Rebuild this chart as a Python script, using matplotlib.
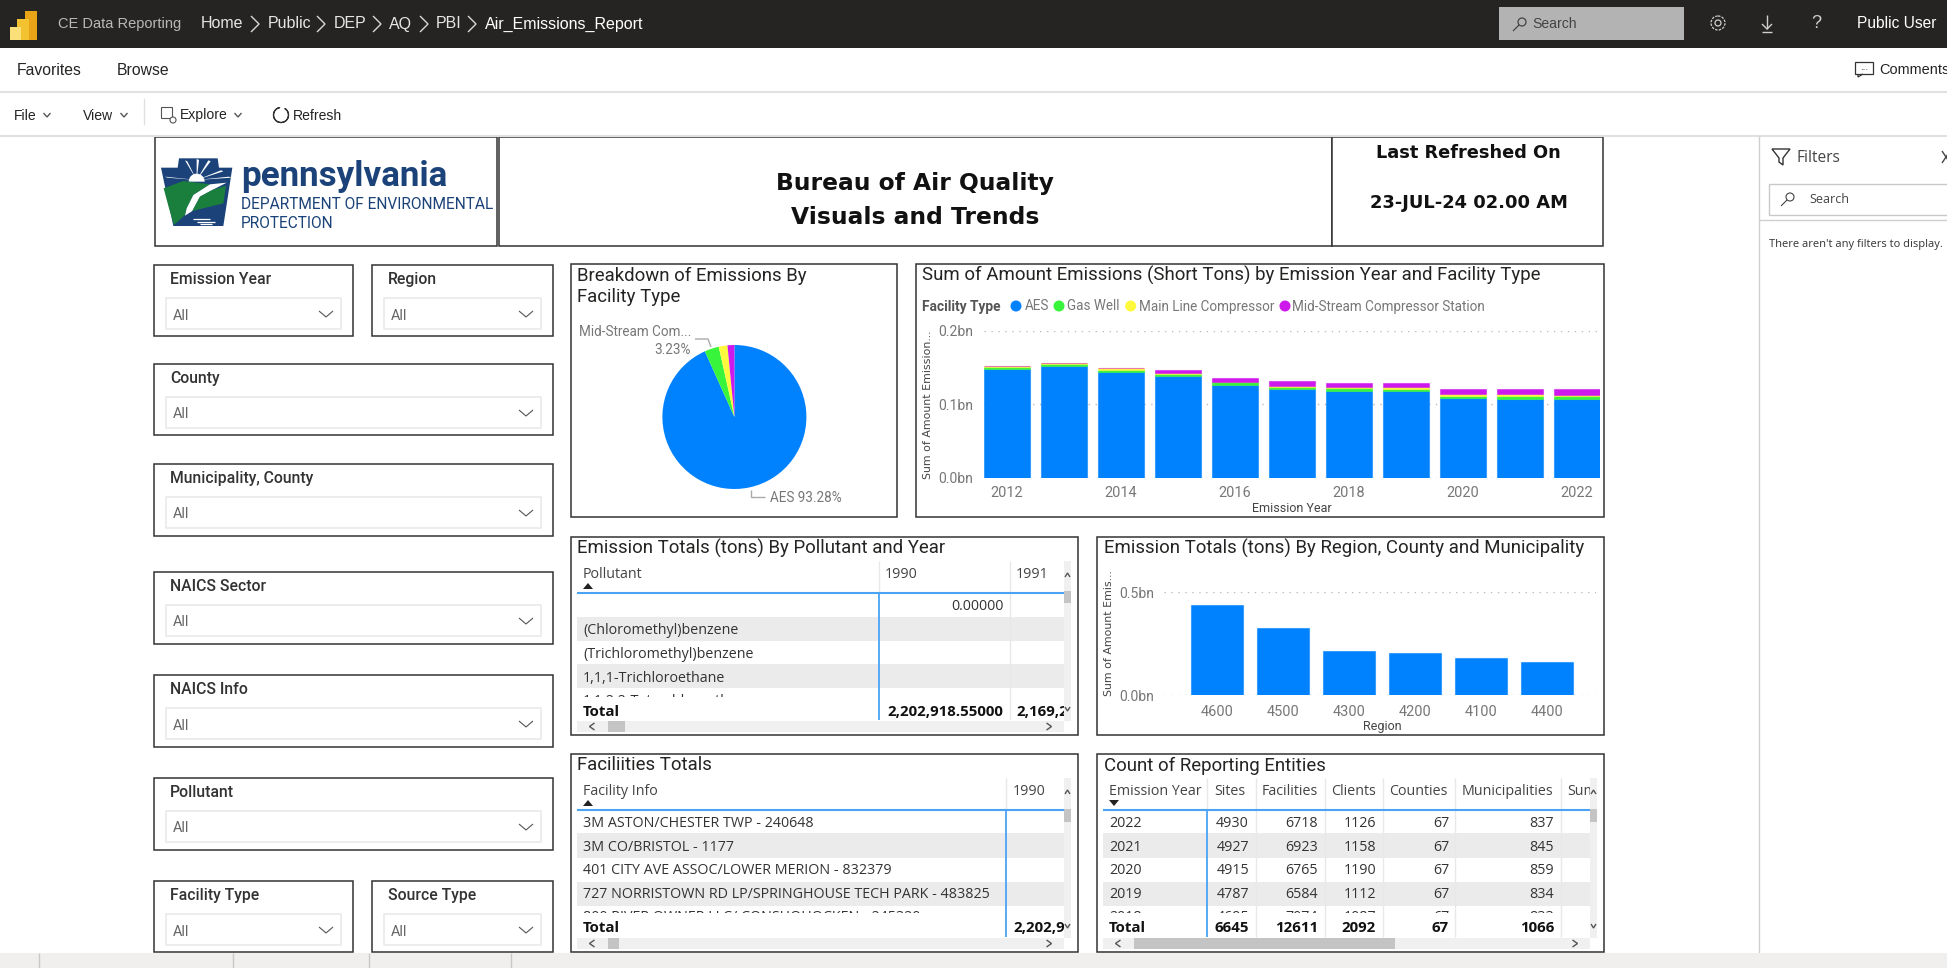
import numpy as np
import matplotlib
matplotlib.use("Agg")
import matplotlib.pyplot as plt
from matplotlib.colors import to_rgba
from matplotlib.patches import Rectangle, Polygon, Circle, Wedge

W, H = 1947, 968

# ---- chart data (bn short tons) ----
years = [2012, 2013, 2014, 2015, 2016, 2017, 2018, 2019, 2020, 2021, 2022]
aes = [.1484, .1521, .1444, .1385, .1263, .1205, .1186, .1181, .1086, .1077, .1069]
gas_well = [.0020, .0027, .0027, .0031, .0037, .0031, .0033, .0031, .0027, .0037, .0045]
main_line = [.0020, .0018, .0019, .0014, .0010, .0018, .0018, .0023, .0023, .0023, .0018]
mid_stream = [.0002, .0002, .0002, .0041, .0050, .0060, .0058, .0058, .0076, .0076, .0077]

facility_types = ['AES', 'Gas Well', 'Main Line Compressor', 'Mid-Stream Compressor Station']
pie_values = [93.28, 3.23, 1.95, 1.54]

regions = ['4600', '4500', '4300', '4200', '4100', '4400']
region_values = [.4385, .3285, .2152, .2071, .1812, .1634]

# ---- table data ----
pollutants = ['', '(Chloromethyl)benzene', '(Trichloromethyl)benzene', '1,1,1-Trichloroethane',
              '1,1,2,2-Tetrachloroethane']
facilities = ['3M ASTON/CHESTER TWP - 240648', '3M CO/BRISTOL - 1177',
              '401 CITY AVE ASSOC/LOWER MERION - 832379',
              '727 NORRISTOWN RD LP/SPRINGHOUSE TECH PARK - 483825',
              '800 RIVER OWNER LLC/ CONSHOHOCKEN - 245320']
count_headers = ['Emission Year', 'Sites', 'Facilities', 'Clients', 'Counties', 'Municipalities', 'Sum']
count_rows = [
    ['2022', '4930', '6718', '1126', '67', '837'],
    ['2021', '4927', '6923', '1158', '67', '845'],
    ['2020', '4915', '6765', '1190', '67', '859'],
    ['2019', '4787', '6584', '1112', '67', '834'],
    ['2018', '4695', '7074', '1087', '67', '833'],
]
count_total = ['Total', '6645', '12611', '2092', '67', '1066']

slicers = ['Emission Year', 'Region', 'County', 'Municipality, County', 'NAICS Sector',
           'NAICS Info', 'Pollutant', 'Facility Type', 'Source Type']

COLORS = ['#0082ff', '#38f53c', '#fff93e', '#ce19ec']
TITLE_FONT = 'Roboto'
UI_FONT = 'Open Sans'
TOP_FONT = 'Liberation Sans'

fig = plt.figure(figsize=(W / 100, H / 100), dpi=100, facecolor='white')
bg = fig.add_axes([0, 0, 1, 1])
bg.set_xlim(0, W)
bg.set_ylim(H, 0)
bg.axis('off')


def px(size):
    return size * 0.72


def rect(x0, y0, x1, y1, fc='none', ec='none', lw=0, z=1):
    bg.add_patch(Rectangle((x0, y0), x1 - x0, y1 - y0, facecolor=fc, edgecolor=ec, linewidth=lw, zorder=z))


def line(xs, ys, color='#666666', lw=1, z=3):
    bg.plot(xs, ys, color=color, lw=lw, zorder=z, solid_capstyle='butt', solid_joinstyle='miter')


def txt(x, y, s, size=13, color='#252423', font=UI_FONT, ha='left', weight='normal', clip=None, z=4):
    # matplotlib centres on the full line box, nudge down to sit like the original
    t = bg.text(x, y + 1.5, s, fontsize=px(size), color=color, family=font, ha=ha, va='center',
                fontweight=weight, zorder=z)
    if clip is not None:
        r = Rectangle((clip[0], clip[1]), clip[2] - clip[0], clip[3] - clip[1], transform=bg.transData)
        t.set_clip_path(r)
        t.set_clip_on(True)
    return t


def chevron(x, y, w, h, color='#555555', lw=1):
    # v shape, h > 0 points down
    line([x - w, x, x + w], [y - h, y + h, y - h], color, lw)


def side_chevron(x, y, w, h, color='#cccccc', lw=1):
    # w > 0 points right
    line([x - w, x + w, x - w], [y - h, y, y + h], color, lw)


def frame(x0, y0, x1, y1):
    rect(x0, y0, x1, y1, fc='white', ec='#333333', lw=1.1, z=2)


def chart_axes(x0, y0, x1, y1):
    ax = fig.add_axes([x0 / W, 1 - y1 / H, (x1 - x0) / W, (y1 - y0) / H])
    ax.patch.set_alpha(0)
    for s in ax.spines.values():
        s.set_visible(False)
    return ax


def style_bars(ax, yticks, ylabels):
    ax.set_yticks(yticks)
    ax.set_yticklabels(ylabels, fontsize=px(14), color='#777777', family=TITLE_FONT)
    ax.tick_params(axis='both', length=0)
    ax.grid(axis='y', linestyle=(0, (1, 4)), color='#bbbbbb', linewidth=1)
    ax.set_axisbelow(True)


# ---- top chrome ----
rect(0, 0, W, 48, fc='#252423')
rect(25, 11, 37, 40, fc='#e8a317', z=2)
rect(17, 19, 29, 40, fc='#f2c230', z=3)
rect(10, 27, 21, 40, fc='#fbe07a', z=4)
txt(58, 22.5, 'CE Data Reporting', 14.6, '#b9b9b9', TOP_FONT)
for label, x in [('Home', 201), ('Public', 268), ('DEP', 334), ('AQ', 389), ('PBI', 436)]:
    txt(x, 22.5, label, 16, '#e6e6e6', TOP_FONT)
txt(485, 22.5, 'Air_Emissions_Report', 16, 'white', TOP_FONT)
for x in [255, 321, 377, 424, 472]:
    side_chevron(x, 24, 4, 8, '#d8d8d8')
rect(1499, 7, 1684, 40, fc='#b3b3b3', z=2)
bg.add_patch(Circle((1522, 22), 4, fc='none', ec='#444444', lw=0.9, zorder=3))
line([1519, 1513], [25, 31], '#444444', 0.9)
txt(1532, 22.5, 'Search', 14, '#444444', TOP_FONT)
bg.add_patch(Circle((1718, 23), 3, fc='none', ec='#cfcfcf', lw=0.9, zorder=3))
bg.add_patch(Circle((1718, 23), 7, fc='none', ec='#cfcfcf', lw=0.9, ls=(0, (2, 1)), zorder=3))
line([1767, 1767], [15, 29], '#cfcfcf')
line([1762, 1767, 1772], [24, 29, 24], '#cfcfcf')
line([1762, 1772], [32, 32], '#cfcfcf')
txt(1816, 22.5, '?', 18, '#cfcfcf', TOP_FONT, ha='center')
txt(1857, 22.5, 'Public User', 15.5, 'white', TOP_FONT)

txt(17, 69, 'Favorites', 15.8, '#252423', TOP_FONT)
txt(117, 69, 'Browse', 15.8, '#252423', TOP_FONT)
rect(1855, 62, 1873, 74, ec='#333333', lw=0.9, z=3)
line([1858, 1858, 1863], [74, 77, 74], '#333333', 0.9)
txt(1864, 66, '...', 10, '#333333', TOP_FONT, ha='center')
txt(1879, 69, 'Comments', 14.5, '#252423', TOP_FONT, clip=(1870, 55, W, 85))
line([0, W], [92, 92], '#e1e1e1', 1.5)

txt(14, 114, 'File', 14, '#252423', TOP_FONT)
chevron(47, 115, 3.5, 2)
txt(83, 114, 'View', 14, '#252423', TOP_FONT)
chevron(124, 115, 3.5, 2)
line([144, 144], [98, 125], '#e1e1e1')
rect(161, 107, 172, 118, ec='#555555', lw=0.8, z=3)
bg.add_patch(Circle((173, 120), 3, fc='white', ec='#555555', lw=0.8, zorder=3))
txt(180, 114, 'Explore', 14, '#252423', TOP_FONT)
chevron(238, 115, 3.5, 2)
bg.add_patch(Wedge((281, 115), 7.5, -60, 260, width=0.01, fc='none', ec='#333333', lw=0.9, zorder=3))
txt(293, 114, 'Refresh', 14, '#252423', TOP_FONT)
line([0, W], [136, 136], '#e1e1e1', 1.5)

# filter pane
line([1759, 1759], [136, 953], '#cfcfcf', 1)
line([1759, W], [220, 220], '#cfcfcf', 1)
bg.add_patch(Polygon([(1772, 149), (1790, 149), (1783, 158), (1783, 165), (1779, 162), (1779, 158)],
                     fc='none', ec='#333333', lw=1, zorder=3))
txt(1797, 156, 'Filters', 15.5, '#444444', UI_FONT)
line([1942, 1950], [151, 163], '#444444')
line([1942, 1950], [163, 151], '#444444')
rect(1769, 184, 1960, 215, fc='white', ec='#c8c8c8', lw=1, z=2)
bg.add_patch(Circle((1790, 197), 4, fc='none', ec='#444444', lw=0.8, zorder=3))
line([1787, 1781], [200, 206], '#444444', 0.8)
txt(1809, 198, 'Search', 12.5, '#444444', UI_FONT)
txt(1769, 243, "There aren't any filters to display.", 11.1, '#333333', UI_FONT)

# bottom strip
rect(0, 953, W, H, fc='#f0efee', z=5)
for x in [39, 233, 369, 511]:
    line([x, x], [953, H], '#c8c8c8', 1, z=6)

# ---- report header ----
frame(155, 137, 497, 246)
frame(499, 137, 1332, 246)
frame(1332, 137, 1603, 246)

NAVY = '#1b4379'
GREEN = '#1a7f3c'


def logo_pts(points):
    return [(155 + a / 3, 145 + b / 3) for a, b in points]


bg.add_patch(Polygon(logo_pts([(72, 40), (188, 40), (192, 68), (232, 68), (205, 243), (55, 243),
                               (18, 68), (68, 68)]), fc=NAVY, ec='none', zorder=3))
for a, b in [(90, 46), (125, 42), (160, 46), (55, 75), (198, 76), (30, 95), (222, 95)]:
    bg.add_patch(Polygon(logo_pts([(125, 105), (a, b), (a + 7, b + 3)]), fc='white', ec='none', zorder=3))
bg.add_patch(Wedge((155 + 125 / 3, 145 + 110 / 3), 8, 180, 360, fc='white', ec='none', zorder=3))
bg.add_patch(Polygon(logo_pts([(26, 130), (85, 108), (165, 118), (115, 150), (95, 190), (90, 210),
                               (57, 240), (42, 190)]), fc=GREEN, ec='none', zorder=4))
bg.add_patch(Polygon(logo_pts([(215, 113), (165, 118), (115, 150), (95, 190), (90, 212), (112, 198),
                               (135, 155), (172, 135)]), fc='white', ec='none', zorder=4))
bg.add_patch(Polygon(logo_pts([(213, 122), (205, 175), (112, 198), (135, 155), (172, 135)]),
                     fc=GREEN, ec='none', zorder=4))
for a, b, c in [(115, 165, 222), (125, 180, 230), (135, 170, 236)]:
    line([155 + a / 3, 155 + b / 3], [145 + c / 3] * 2, 'white', 0.9, z=5)
txt(241, 175, 'pennsylvania', 35, NAVY, 'Roboto', weight='bold')
txt(241, 203, 'DEPARTMENT OF ENVIRONMENTAL', 15.5, NAVY, 'Roboto')
txt(241, 222, 'PROTECTION', 15.5, NAVY, 'Roboto')

txt(915, 182, 'Bureau of Air Quality', 23.4, '#111111', 'DejaVu Sans', ha='center', weight='bold')
txt(915, 216, 'Visuals and Trends', 23.4, '#111111', 'DejaVu Sans', ha='center', weight='bold')
txt(1468, 151, 'Last Refreshed On', 17.7, '#111111', 'DejaVu Sans', ha='center', weight='bold')
txt(1469, 202, '23-JUL-24 02.00 AM', 17.9, '#111111', 'DejaVu Sans', ha='center', weight='bold')

# ---- slicers ----
slicer_boxes = [(154, 265, 353, 336), (372, 265, 553, 336), (154, 364, 553, 435),
                (154, 464, 553, 536), (154, 572, 553, 644), (154, 675, 553, 747),
                (154, 778, 553, 850), (154, 881, 353, 952), (372, 881, 553, 952)]
for name, (x0, y0, x1, y1) in zip(slicers, slicer_boxes):
    frame(x0, y0, x1, y1)
    rect(x0 + 12, y0 + 33, x1 - 12, y0 + 64, fc='white', ec='#eaeaea', lw=1.2, z=3)
    txt(x0 + 16, y0 + 13, name, 15.7, '#333333', TITLE_FONT, weight='medium')
    txt(x0 + 19, y0 + 49, 'All', 14.5, '#666666', TITLE_FONT)
    chevron(x1 - 27, y0 + 49, 7, 3, '#555555', 0.8)

# ---- chart panels ----
frame(571, 264, 897, 517)
frame(916, 264, 1604, 517)
frame(571, 537, 1078, 735)
frame(1097, 537, 1604, 735)
frame(571, 754, 1078, 952)
frame(1097, 754, 1604, 952)

TITLE_SIZE = 18.7
txt(577, 274, 'Breakdown of Emissions By', TITLE_SIZE, '#252423', TITLE_FONT)
txt(577, 296, 'Facility Type', TITLE_SIZE, '#252423', TITLE_FONT)
txt(922, 274, 'Sum of Amount Emissions (Short Tons) by Emission Year and Facility Type', TITLE_SIZE,
    '#252423', TITLE_FONT)
txt(577, 547, 'Emission Totals (tons) By Pollutant and Year', TITLE_SIZE, '#252423', TITLE_FONT)
txt(1104, 547, 'Emission Totals (tons) By Region, County and Municipality', TITLE_SIZE, '#252423', TITLE_FONT)
txt(577, 764, 'Faciliities Totals', TITLE_SIZE, '#252423', TITLE_FONT)
txt(1104, 764, 'Count of Reporting Entities', TITLE_SIZE, '#252423', TITLE_FONT)

# pie
pie_ax = chart_axes(662.4, 345, 806.4, 489)
pie_ax.pie(pie_values, colors=COLORS, startangle=90, counterclock=False, radius=1)
pie_ax.set_xlim(-1, 1)
pie_ax.set_ylim(-1, 1)
txt(579, 331, 'Mid-Stream Com...', 13.5, '#777777', TITLE_FONT)
txt(690.5, 348, f'{pie_values[1]:.2f}%', 13.5, '#777777', TITLE_FONT, ha='right')
line([695, 708, 711], [339, 339, 347], '#aaaaaa')
txt(769.6, 497, f'AES {pie_values[0]:.2f}%', 13.5, '#777777', TITLE_FONT)
line([750.7, 750.7, 765], [490, 496.7, 496.7], '#aaaaaa')

# stacked bars
stack_ax = chart_axes(984, 330.7, 1600, 478)
bottom = np.zeros(len(years))
for values, color in zip([aes, gas_well, main_line, mid_stream], COLORS):
    stack_ax.bar(years, values, width=46 / 57, bottom=bottom, color=color,
                 edgecolor=to_rgba(color, 0.55), linewidth=0.8)
    bottom += np.array(values)
stack_ax.set_xlim(2012 - 23 / 57, 2022 + 23 / 57)
stack_ax.set_ylim(0, 0.2)
style_bars(stack_ax, [0, 0.1, 0.2], ['0.0bn', '0.1bn', '0.2bn'])
stack_ax.tick_params(axis='y', pad=8)
stack_ax.tick_params(axis='x', pad=6)
stack_ax.set_xticks(years[::2])
stack_ax.set_xticklabels(years[::2], fontsize=px(14.5), color='#777777', family=TITLE_FONT)
stack_ax.set_xlabel('Emission Year', fontsize=px(12.5), color='#444444', family=TITLE_FONT, va='center')
stack_ax.xaxis.set_label_coords(1292, 508.5, transform=bg.transData)
stack_ax.set_ylabel('Sum of Amount Emission...', fontsize=px(11), color='#444444', va='center')
stack_ax.yaxis.set_label_coords(928, 405, transform=bg.transData)

txt(922, 305, 'Facility Type', 13.8, '#555555', TITLE_FONT, weight='bold')
for name, color, cx, tx in zip(facility_types, COLORS, [1016, 1059, 1130.7, 1285],
                               [1024.5, 1067, 1139, 1292]):
    bg.add_patch(Circle((cx, 306), 5.5, fc=color, ec='none', zorder=4))
    txt(tx, 305, name, 13.5, '#777777', TITLE_FONT)

# region bars
region_ax = chart_axes(1164, 592.3, 1596.5, 695.3)
region_pos = np.arange(len(regions))
region_ax.bar(region_pos, region_values, width=51.4 / 66, color=COLORS[0],
              edgecolor=to_rgba(COLORS[0], 0.55), linewidth=0.8)
region_ax.set_xlim(-0.806, 5.75)
region_ax.set_ylim(0, 0.5)
style_bars(region_ax, [0, 0.5], ['0.0bn', '0.5bn'])
region_ax.tick_params(axis='y', pad=7)
region_ax.tick_params(axis='x', pad=7)
region_ax.set_xticks(region_pos)
region_ax.set_xticklabels(regions, fontsize=px(14.5), color='#777777', family=TITLE_FONT)
region_ax.set_xlabel('Region', fontsize=px(12.5), color='#444444', family=TITLE_FONT, va='center')
region_ax.xaxis.set_label_coords(1382, 726.5, transform=bg.transData)
region_ax.set_ylabel('Sum of Amount Emis...', fontsize=px(11), color='#444444', va='center')
region_ax.yaxis.set_label_coords(1109, 633, transform=bg.transData)


# ---- tables ----
def table_shell(x0, x1, y_rule, shade, y_total, seps, blue_x, y_top, thumb, vthumb, sb_x):
    # x0..x1 is the body; sb_x is the left edge of the scrollbar
    for a, b in shade:
        rect(x0, a, x1, b, fc='#ebebeb', z=3)
    for x in seps:
        line([x, x], [y_top, y_total + 9], '#e8e8e8', 1, z=3.5)
    line([blue_x, blue_x], [y_rule, y_total + 9], '#4aa3f5', 1.3, z=3.5)
    line([blue_x, blue_x], [y_top, y_rule], '#e8e8e8', 1, z=3.5)
    line([x0, x1], [y_rule, y_rule], '#4aa3f5', 1.5, z=3.5)
    rect(x0, y_total + 10, x1, y_total + 21, fc='#f0f0f0', z=3)
    rect(thumb[0], y_total + 10, thumb[1], y_total + 21, fc='#c4c4c4', z=3.5)
    rect(sb_x, y_top, sb_x + 7, y_total + 10, fc='#f0f0f0', z=3)
    rect(sb_x, vthumb[0], sb_x + 7, vthumb[1], fc='#c4c4c4', z=3.5)
    side_chevron(x0 + 15, y_total + 15.5, -2.5, 3.5, '#555555')
    side_chevron(x1 - 15, y_total + 15.5, 2.5, 3.5, '#555555')
    chevron(sb_x + 3.5, y_top + 14, 2.5, -2, '#555555')
    chevron(sb_x + 3.5, y_total - 2, 2.5, 2, '#555555')


def sort_arrow(x, y, up=True):
    d = -1 if up else 1
    bg.add_patch(Polygon([(x - 5, y - 3 * d), (x + 5, y - 3 * d), (x, y + 3 * d)], fc='#222222', ec='none', zorder=4))


CELL = 14.3
BOLD_CELL = 15
BOLD_COLOR = '#111111'

# pollutant table
table_shell(577, 1064, 593, [(617, 641), (664, 688)], 711, [1009.6], 878.5, 561,
            (608, 625), (591, 603), 1064)
txt(583, 573, 'Pollutant', CELL, '#444444')
sort_arrow(588, 586)
txt(885, 573, '1990', CELL, '#444444')
txt(1016, 573, '1991', CELL, '#444444')
for name, y in zip(pollutants, [605, 629, 653, 677, 700]):
    txt(583, y, name, CELL, '#333333', clip=(571, 594, 1064, 697))
txt(1003.5, 605, '0.00000', CELL, '#333333', ha='right')
txt(583, 710, 'Total', BOLD_CELL, BOLD_COLOR, weight='bold')
txt(1003.5, 710, '2,202,918.55000', BOLD_CELL, BOLD_COLOR, ha='right', weight='bold')
txt(1016, 710, '2,169,265.10000', BOLD_CELL, BOLD_COLOR, weight='bold', clip=(1010, 700, 1064, 722))

# facilities table
table_shell(577, 1064, 810, [(833, 858), (882, 906)], 928, [], 1006, 778,
            (608, 619), (809, 822), 1064)
txt(583, 790, 'Facility Info', CELL, '#444444')
sort_arrow(588, 803)
txt(1013, 790, '1990', CELL, '#444444')
for name, y in zip(facilities, [822, 846, 869, 893, 916]):
    txt(583, y, name, CELL, '#333333', clip=(571, 811, 1006, 913))
txt(583, 927, 'Total', BOLD_CELL, BOLD_COLOR, weight='bold')
txt(1013, 927, '2,202,918.55000', BOLD_CELL, BOLD_COLOR, weight='bold', clip=(1007, 917, 1064, 939))

# count table
table_shell(1103, 1590, 810, [(833, 858), (882, 906)], 928,
            [1256, 1325, 1383, 1455, 1561], 1207, 778, (1134, 1395), (809, 822), 1590)
head_x = [1109, 1214, 1262, 1331, 1389, 1462, 1567]
right_x = [None, 1249, 1318, 1376, 1449, 1554]
for h, x in zip(count_headers, head_x):
    txt(x, 790, h, CELL, '#444444', clip=(1103, 778, 1590, 805))
sort_arrow(1114, 803, up=False)
for row, y in zip(count_rows, [822, 846, 869, 893, 916]):
    txt(1109, y, row[0], CELL, '#333333', clip=(1103, 811, 1590, 913))
    for v, x in zip(row[1:], right_x[1:]):
        txt(x, y, v, CELL, '#333333', ha='right', clip=(1103, 811, 1590, 913))
txt(1109, 927, count_total[0], BOLD_CELL, BOLD_COLOR, weight='bold')
for v, x in zip(count_total[1:], right_x[1:]):
    txt(x, 927, v, BOLD_CELL, BOLD_COLOR, ha='right', weight='bold')

fig.savefig('out.png', dpi=100)
